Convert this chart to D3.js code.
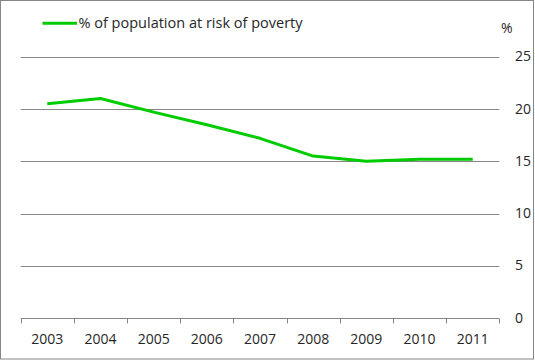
<!DOCTYPE html>
<html>
<head>
    <meta charset="UTF-8">
    <style>
        body { margin: 0; background: #fff; }
        text {
            font-family: "Open Sans", "Liberation Sans", Arial, sans-serif;
            font-size: 14px;
            fill: #262626;
        }
        text.legend { font-size: 14.5px; }
        .grid line { stroke: #868686; stroke-width: 1px; }
    </style>
</head>
<body>
<div id="chart"></div>
<script src="https://d3js.org/d3.v7.min.js"></script>
<script>
    // values
    var years = ["2003", "2004", "2005", "2006", "2007", "2008", "2009", "2010", "2011"];
    var riskOfPoverty = [20.5, 21.0, 19.7, 18.5, 17.2, 15.5, 15.0, 15.2, 15.2];
    var yTicks = [0, 5, 10, 15, 20, 25];
    var seriesName = "% of population at risk of poverty";

    var width = 535, height = 360;

    var svg = d3.select("#chart").append("svg")
        .attr("width", width)
        .attr("height", height);

    // outer frame
    svg.append("rect")
        .attr("x", 0.5).attr("y", 0.5)
        .attr("width", 533).attr("height", 358.5)
        .attr("fill", "#fff")
        .attr("stroke", "#868686");

    var x = d3.scaleBand().domain(years).range([20.7, 499.3]);
    var y = d3.scaleLinear().domain([0, 25]).range([318.3, 56.7]);

    // horizontal grid lines
    var grid = svg.append("g").attr("class", "grid");
    grid.selectAll("line")
        .data(yTicks)
        .enter().append("line")
        .attr("x1", x.range()[0])
        .attr("x2", x.range()[1])
        .attr("y1", function (d) { return Math.round(y(d)) + 0.5; })
        .attr("y2", function (d) { return Math.round(y(d)) + 0.5; });

    // category tick marks under the zero line
    var bounds = years.map(function (d) { return x(d); }).concat([x.range()[1]]);
    grid.selectAll("line.tick")
        .data(bounds)
        .enter().append("line")
        .attr("class", "tick")
        .attr("x1", function (d) { return Math.round(d) + 0.5; })
        .attr("x2", function (d) { return Math.round(d) + 0.5; })
        .attr("y1", Math.round(y(0)) + 0.5)
        .attr("y2", Math.round(y(0)) + 5.5);

    // y labels on the right
    svg.append("g").selectAll("text")
        .data(yTicks)
        .enter().append("text")
        .attr("x", 515)
        .attr("y", function (d) { return y(d) + 4.5; })
        .text(function (d) { return d; });

    svg.append("text")
        .attr("x", 501)
        .attr("y", 33)
        .text("%");

    // x labels
    svg.append("g").selectAll("text")
        .data(years)
        .enter().append("text")
        .attr("x", function (d) { return x(d) + x.bandwidth() / 2; })
        .attr("y", 344)
        .attr("text-anchor", "middle")
        .text(function (d) { return d; });

    // the series
    var line = d3.line()
        .x(function (d, i) { return x(years[i]) + x.bandwidth() / 2; })
        .y(function (d) { return y(d); });

    svg.append("path")
        .datum(riskOfPoverty)
        .attr("d", line)
        .attr("fill", "none")
        .attr("stroke", "#00cc00")
        .attr("stroke-width", 3)
        .attr("stroke-linejoin", "round")
        .attr("stroke-linecap", "butt");

    // legend
    svg.append("line")
        .attr("x1", 42.5).attr("x2", 77)
        .attr("y1", 23.3).attr("y2", 23.3)
        .attr("stroke", "#00cc00")
        .attr("stroke-width", 3);

    svg.append("text")
        .attr("class", "legend")
        .attr("x", 78.5)
        .attr("y", 28)
        .text(seriesName);
</script>
</body>
</html>
